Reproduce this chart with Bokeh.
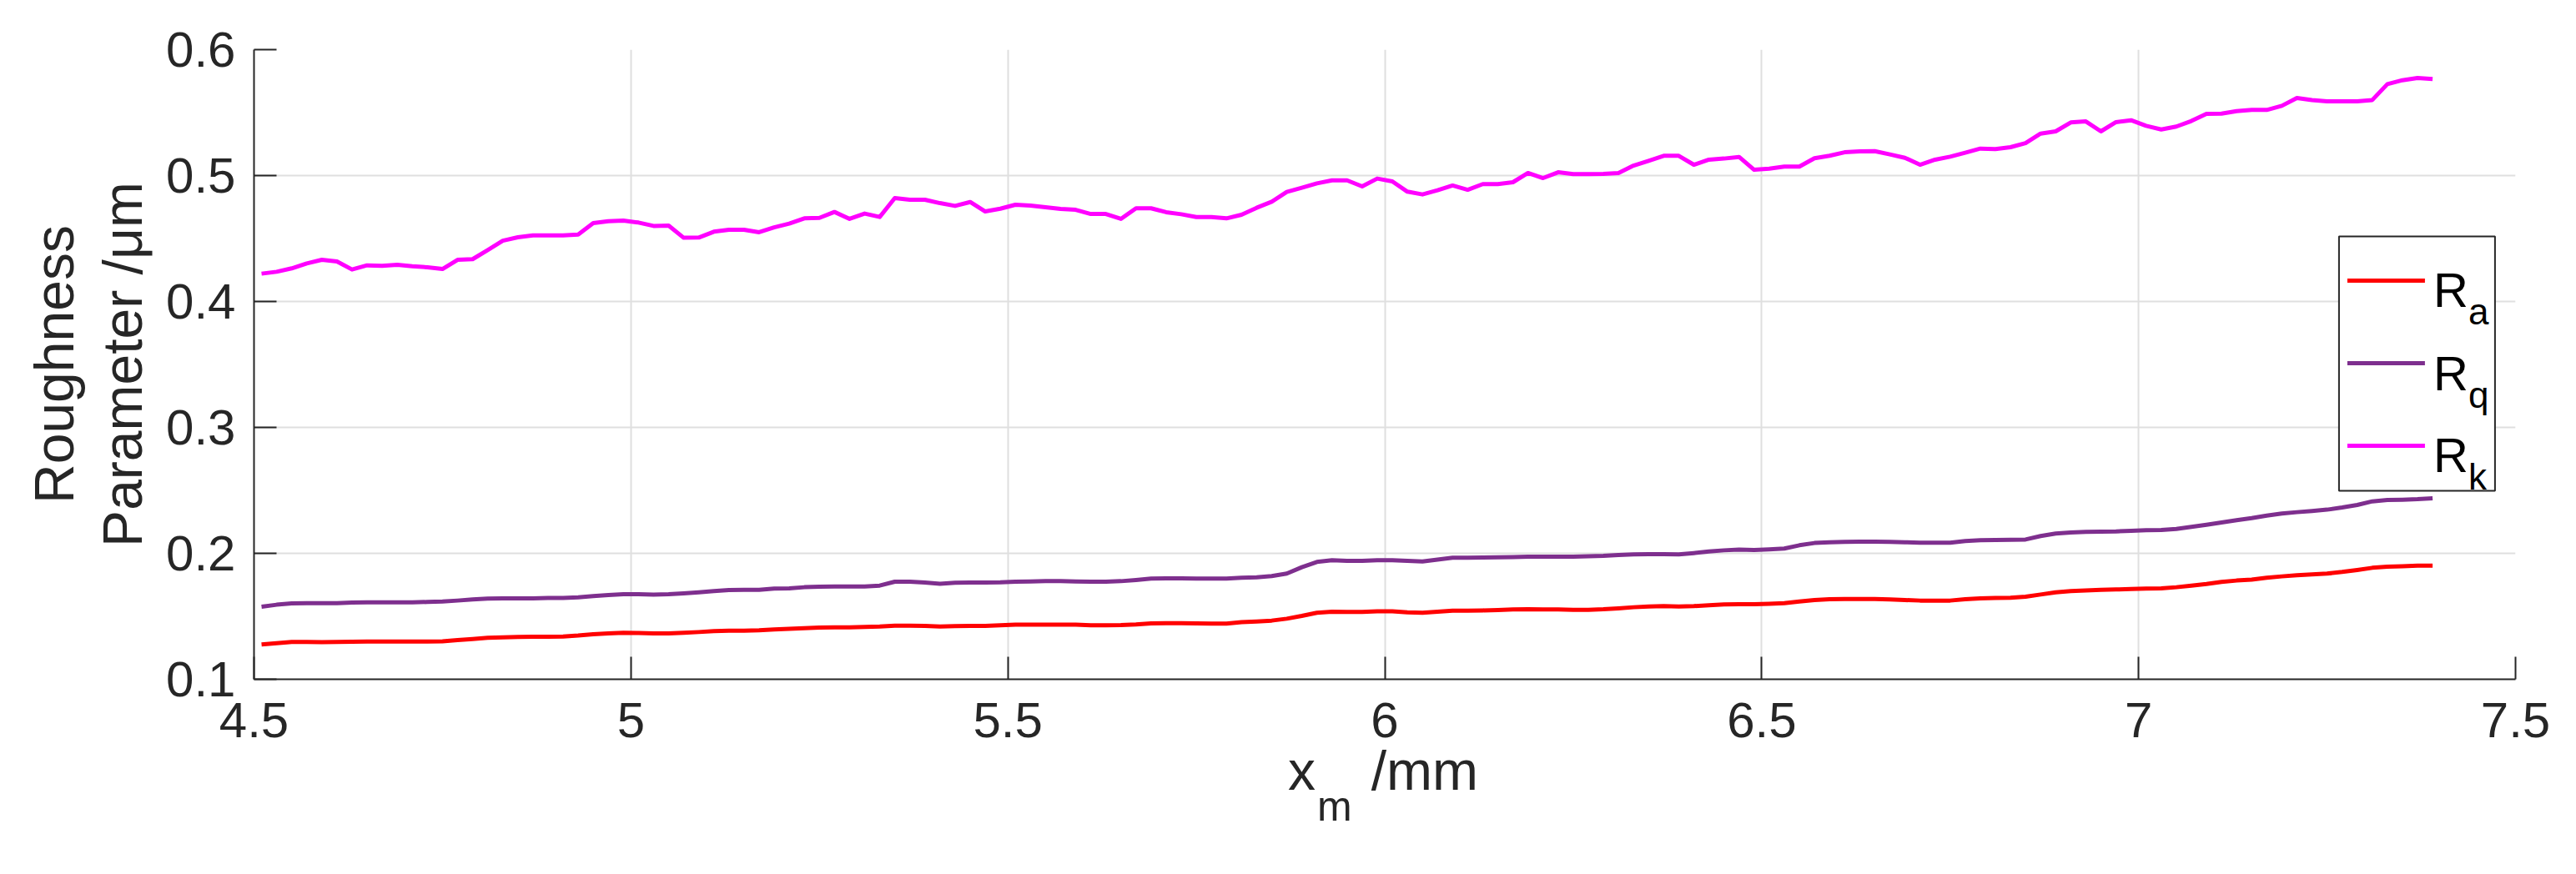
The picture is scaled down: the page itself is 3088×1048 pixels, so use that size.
from bokeh.plotting import figure
from bokeh.models import Range1d, FixedTicker, Label, LinearAxis
from bokeh.embed import file_html
from bokeh.resources import INLINE

# ---------------- data ----------------
x_mm = [
    4.51, 4.53, 4.55, 4.57, 4.59, 4.61, 4.63, 4.65, 4.67, 4.69,
    4.71, 4.73, 4.75, 4.77, 4.79, 4.81, 4.83, 4.85, 4.87, 4.89,
    4.91, 4.93, 4.95, 4.97, 4.99, 5.01, 5.03, 5.05, 5.07, 5.09,
    5.11, 5.13, 5.15, 5.17, 5.19, 5.21, 5.23, 5.25, 5.27, 5.29,
    5.31, 5.33, 5.35, 5.37, 5.39, 5.41, 5.43, 5.45, 5.47, 5.49,
    5.51, 5.53, 5.55, 5.57, 5.59, 5.61, 5.63, 5.65, 5.67, 5.69,
    5.71, 5.73, 5.75, 5.77, 5.79, 5.81, 5.83, 5.85, 5.87, 5.89,
    5.91, 5.93, 5.95, 5.97, 5.99, 6.01, 6.03, 6.05, 6.07, 6.09,
    6.11, 6.13, 6.15, 6.17, 6.19, 6.21, 6.23, 6.25, 6.27, 6.29,
    6.31, 6.33, 6.35, 6.37, 6.39, 6.41, 6.43, 6.45, 6.47, 6.49,
    6.51, 6.53, 6.55, 6.57, 6.59, 6.61, 6.63, 6.65, 6.67, 6.69,
    6.71, 6.73, 6.75, 6.77, 6.79, 6.81, 6.83, 6.85, 6.87, 6.89,
    6.91, 6.93, 6.95, 6.97, 6.99, 7.01, 7.03, 7.05, 7.07, 7.09,
    7.11, 7.13, 7.15, 7.17, 7.19, 7.21, 7.23, 7.25, 7.27, 7.29,
    7.31, 7.33, 7.35, 7.37, 7.39,
]

r_a = [
    0.1276, 0.1287, 0.1296, 0.1296, 0.1294, 0.1296, 0.1298, 0.1300, 0.1300, 0.1300,
    0.1300, 0.1300, 0.1302, 0.1311, 0.1320, 0.1329, 0.1333, 0.1336, 0.1338, 0.1338,
    0.1340, 0.1347, 0.1358, 0.1364, 0.1369, 0.1367, 0.1364, 0.1364, 0.1369, 0.1375,
    0.1382, 0.1386, 0.1386, 0.1389, 0.1395,
    0.1400, 0.1406, 0.1411, 0.1413, 0.1413, 0.1415, 0.1419, 0.1426, 0.1426, 0.1424,
    0.1419, 0.1422, 0.1424, 0.1424, 0.1428, 0.1433, 0.1433, 0.1433, 0.1433, 0.1433,
    0.1428, 0.1428, 0.1430, 0.1435, 0.1444, 0.1446, 0.1446, 0.1444, 0.1442, 0.1442,
    0.1453, 0.1459, 0.1466, 0.1481, 0.1503, 0.1528, 0.1536, 0.1534, 0.1534,
    0.1539, 0.1539, 0.1532, 0.1528, 0.1536, 0.1545, 0.1545, 0.1547, 0.1550, 0.1554,
    0.1556, 0.1554, 0.1554, 0.1552, 0.1552, 0.1556, 0.1563, 0.1572, 0.1578, 0.1581,
    0.1578, 0.1581, 0.1587, 0.1594, 0.1596, 0.1596, 0.1600, 0.1605, 0.1618, 0.1629,
    0.1636, 0.1638, 0.1638, 0.1638, 0.1634, 0.1629, 0.1625, 0.1625, 0.1625,
    0.1636, 0.1642, 0.1645, 0.1647, 0.1656, 0.1673, 0.1691, 0.1700, 0.1706, 0.1711,
    0.1713, 0.1717, 0.1720, 0.1722, 0.1731, 0.1744, 0.1757, 0.1773, 0.1784, 0.1792,
    0.1806, 0.1817, 0.1826, 0.1832, 0.1839, 0.1852, 0.1868, 0.1885, 0.1894, 0.1898,
    0.1903, 0.1903,
]

r_q = [
    0.1576, 0.1592, 0.1603, 0.1605, 0.1605, 0.1605, 0.1609, 0.1611, 0.1611, 0.1611,
    0.1611, 0.1614, 0.1618, 0.1625, 0.1634, 0.1640, 0.1642, 0.1642, 0.1642, 0.1645,
    0.1645, 0.1651, 0.1660, 0.1669, 0.1675, 0.1675, 0.1673, 0.1675, 0.1682, 0.1691,
    0.1700, 0.1709, 0.1711, 0.1711, 0.1720,
    0.1722, 0.1731, 0.1735, 0.1737, 0.1737, 0.1737, 0.1744, 0.1775, 0.1775, 0.1768,
    0.1759, 0.1766, 0.1768, 0.1768, 0.1770, 0.1775, 0.1777, 0.1779, 0.1779, 0.1777,
    0.1775, 0.1775, 0.1779, 0.1788, 0.1799, 0.1801, 0.1801, 0.1799, 0.1799, 0.1799,
    0.1806, 0.1810, 0.1819, 0.1839, 0.1890, 0.1932, 0.1945, 0.1940, 0.1940,
    0.1945, 0.1945, 0.1940, 0.1936, 0.1951, 0.1965, 0.1965, 0.1967, 0.1969, 0.1971,
    0.1974, 0.1974, 0.1974, 0.1974, 0.1976, 0.1980, 0.1987, 0.1991, 0.1993, 0.1993,
    0.1991, 0.2002, 0.2015, 0.2024, 0.2029, 0.2026, 0.2031, 0.2038, 0.2064, 0.2082,
    0.2088, 0.2091, 0.2093, 0.2093, 0.2091, 0.2088, 0.2084, 0.2084, 0.2084,
    0.2097, 0.2104, 0.2106, 0.2108, 0.2110, 0.2137, 0.2157, 0.2166, 0.2170, 0.2172,
    0.2174, 0.2179, 0.2183, 0.2185, 0.2194, 0.2210, 0.2227, 0.2245, 0.2263, 0.2280,
    0.2300, 0.2316, 0.2327, 0.2336, 0.2347, 0.2364, 0.2384, 0.2413, 0.2424, 0.2426,
    0.2430, 0.2437,
]

r_k = [
    0.4221, 0.4236, 0.4263, 0.4302, 0.4331, 0.4318, 0.4254, 0.4287, 0.4283, 0.4291,
    0.4280, 0.4272, 0.4258, 0.4331, 0.4336, 0.4408, 0.4483, 0.4510, 0.4525, 0.4525,
    0.4525, 0.4532, 0.4623, 0.4638, 0.4642, 0.4627, 0.4600, 0.4603, 0.4506, 0.4508,
    0.4554, 0.4570, 0.4570, 0.4550, 0.4589,
    0.4618, 0.4660, 0.4664, 0.4711, 0.4656, 0.4698, 0.4671, 0.4821, 0.4808, 0.4808,
    0.4781, 0.4759, 0.4790, 0.4715, 0.4737, 0.4768, 0.4762, 0.4748, 0.4735, 0.4728,
    0.4695, 0.4695, 0.4656, 0.4740, 0.4740, 0.4709, 0.4693, 0.4671, 0.4671, 0.4660,
    0.4689, 0.4744, 0.4792, 0.4870, 0.4903, 0.4938, 0.4962, 0.4962, 0.4914,
    0.4976, 0.4954, 0.4872, 0.4850, 0.4883, 0.4921, 0.4887, 0.4932, 0.4932, 0.4947,
    0.5020, 0.4980, 0.5026, 0.5011, 0.5011, 0.5013, 0.5020, 0.5079, 0.5117, 0.5157,
    0.5157, 0.5086, 0.5126, 0.5135, 0.5148, 0.5046, 0.5055, 0.5071, 0.5071, 0.5137,
    0.5157, 0.5185, 0.5192, 0.5194, 0.5168, 0.5141, 0.5086, 0.5126, 0.5150,
    0.5181, 0.5214, 0.5210, 0.5225, 0.5258, 0.5333, 0.5351, 0.5422, 0.5430, 0.5351,
    0.5424, 0.5439, 0.5395, 0.5366, 0.5389, 0.5433, 0.5490, 0.5492, 0.5512, 0.5521,
    0.5521, 0.5554, 0.5616, 0.5600, 0.5589, 0.5589, 0.5589, 0.5600, 0.5726, 0.5757,
    0.5775, 0.5766,
]

series_names = ["R", "R", "R"]
series_subs = ["a", "q", "k"]
series_colors = ["#ff0000", "#7e2f8e", "#ff00ff"]

x_ticks = [4.5, 5, 5.5, 6, 6.5, 7, 7.5]
x_tick_labels = ["4.5", "5", "5.5", "6", "6.5", "7", "7.5"]
y_ticks = [0.1, 0.2, 0.3, 0.4, 0.5, 0.6]
y_tick_labels = ["0.1", "0.2", "0.3", "0.4", "0.5", "0.6"]

x_label_main = "x"
x_label_sub = "m"
x_label_unit = "/mm"
y_label = "Roughness\nParameter /\u03bcm"

# ---------------- layout / style ----------------
FONT = "Liberation Sans"
AX = "#262626"
FW, FH = 2711, 755
X0, X1 = x_ticks[0], x_ticks[-1]
Y0, Y1 = y_ticks[0], y_ticks[-1]

p = figure(frame_width=FW, frame_height=FH,
           min_border_left=304, min_border_right=73,
           min_border_top=59, min_border_bottom=234,
           x_range=Range1d(X0, X1), y_range=Range1d(Y0, Y1),
           output_backend="svg", toolbar_location=None)
p.outline_line_color = None
p.background_fill_color = "white"
p.border_fill_color = "white"

for ax, ticks, labels in ((p.xaxis, x_ticks, x_tick_labels), (p.yaxis, y_ticks, y_tick_labels)):
    ax.ticker = FixedTicker(ticks=ticks)
    ax.major_label_overrides = dict(zip(ticks, labels))
    ax.axis_line_color = AX
    ax.axis_line_width = 2
    ax.major_tick_line_color = AX
    ax.major_tick_line_width = 2
    ax.major_tick_in = 27
    ax.major_tick_out = 0
    ax.minor_tick_line_color = None
    ax.major_label_text_font = FONT
    ax.major_label_text_font_size = "60px"
    ax.major_label_text_color = AX
p.xaxis.major_label_standoff = 28
p.yaxis.major_label_standoff = 22

# y axis title (two lines)
p.yaxis.axis_label = y_label
p.yaxis.axis_label_text_font = FONT
p.yaxis.axis_label_text_font_size = "66px"
p.yaxis.axis_label_text_font_style = "normal"
p.yaxis.axis_label_text_color = AX
p.yaxis.axis_label_text_line_height = 1.11
p.yaxis.axis_label_standoff = 12

p.xgrid.ticker = FixedTicker(ticks=x_ticks)
p.ygrid.ticker = FixedTicker(ticks=y_ticks)
for g in (p.xgrid, p.ygrid):
    g.grid_line_color = "#dfdfdf"
    g.grid_line_width = 2

# data lines
for ys, col in zip((r_a, r_q, r_k), series_colors):
    p.line(x_mm, ys, line_color=col, line_width=5, line_join="round")


def fx(px):
    return X0 + px * (X1 - X0) / FW


def fy(py):
    return Y1 - py * (Y1 - Y0) / FH


def add_label(x, y, text, size, color="black"):
    p.add_layout(Label(x=x, y=y, text=text, text_align="left",
                       text_baseline="alphabetic", text_font=FONT,
                       text_font_size=f"{size}px", text_color=color))


# x axis title "x_m /mm": text-only axes below the main one
def text_axis(positions, texts, size, standoff):
    a = LinearAxis(ticker=FixedTicker(ticks=positions),
                   major_label_overrides=dict(zip(positions, texts)),
                   axis_line_color=None, major_tick_line_color=None,
                   minor_tick_line_color=None,
                   major_label_text_font=FONT,
                   major_label_text_font_size=f"{size}px",
                   major_label_text_color=AX,
                   major_label_standoff=standoff)
    p.add_layout(a, "below")
    return a


text_axis([fx(1255.9), fx(1403.4)], [x_label_main, x_label_unit], 66, -6)
text_axis([fx(1295.4)], [x_label_sub], 50, -31)

# legend (box, samples, texts)
p.quad(left=[fx(2499.4)], right=[fx(2686.4)], top=[fy(224)], bottom=[fy(529)],
       fill_color="white", line_color=AX, line_width=2)
leg_line_y = [277, 376, 475]
leg_text_y = [288, 388, 486]
for ly, ty, col, nm, sb in zip(leg_line_y, leg_text_y, series_colors, series_names, series_subs):
    p.segment(x0=[fx(2509.4)], y0=[fy(ly)], x1=[fx(2602.4)], y1=[fy(ly)],
              line_color=col, line_width=5)
    add_label(fx(2612.4), fy(ty), nm, 58)
    add_label(fx(2654.4), fy(ty + 26), sb, 44)

open("out.html", "w").write(file_html(p, INLINE))
